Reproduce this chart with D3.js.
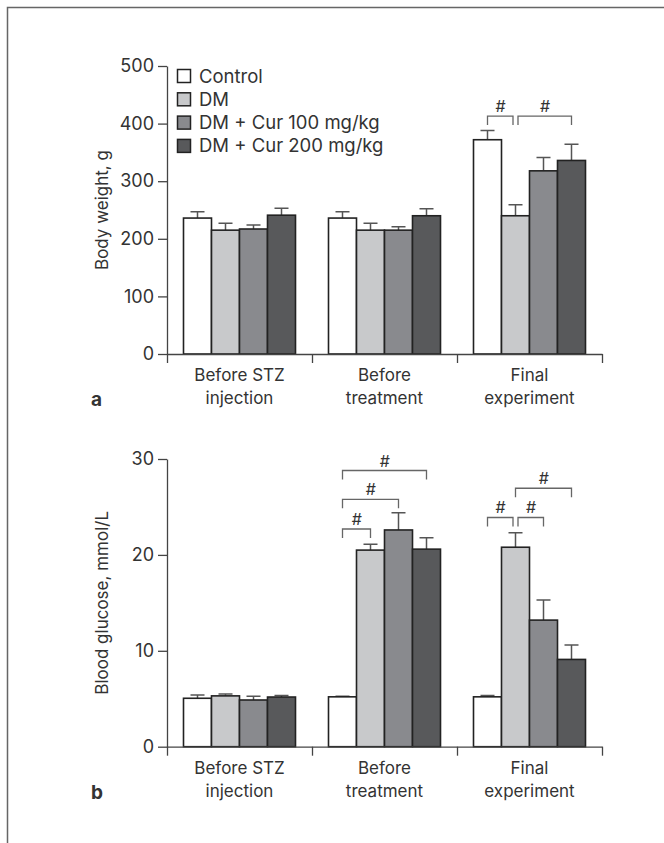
<!DOCTYPE html>
<html>
<head>
<meta charset="utf-8">
<script src="https://cdn.jsdelivr.net/npm/d3@7"></script>
<style>
  body { margin: 0; background: #fff; }
  svg text { font-family: Inter, "Open Sans", sans-serif; fill: #333; }
</style>
</head>
<body>
<div id="chart"></div>
<script>
// groups on the x axis (two lines each)
var categories = [["Before STZ", "injection"], ["Before", "treatment"], ["Final", "experiment"]];
var series = ["Control", "DM", "DM + Cur 100 mg/kg", "DM + Cur 200 mg/kg"];
var colors = ["#ffffff", "#c8c9cb", "#898a8e", "#58595b"];

// panel a: body weight (g), mean and error per group x series
var weightMean = [[236, 215, 217, 241], [236, 215, 215, 240], [372, 240, 318, 336]];
var weightErr  = [[11, 12, 7, 12], [11, 12, 6, 12], [16, 19, 23, 28]];
var weightTicks = [0, 100, 200, 300, 400, 500];
var weightBrackets = [
  {group: 2, from: 0, to: 1, level: 413},
  {group: 2, from: 1, to: 3, level: 413}
];

// panel b: blood glucose (mmol/L)
var glucoseMean = [[5.05, 5.3, 4.87, 5.18], [5.2, 20.5, 22.6, 20.6], [5.2, 20.8, 13.2, 9.1]];
var glucoseErr  = [[0.35, 0.2, 0.38, 0.17], [0.05, 0.6, 1.8, 1.2], [0.15, 1.5, 2.1, 1.5]];
var glucoseTicks = [0, 10, 20, 30];
var glucoseBrackets = [
  {group: 1, from: 0, to: 1, level: 22.7},
  {group: 1, from: 0, to: 2, level: 25.8},
  {group: 1, from: 0, to: 3, level: 28.8},
  {group: 2, from: 0, to: 1, level: 23.9},
  {group: 2, from: 1, to: 2, level: 23.9},
  {group: 2, from: 1, to: 3, level: 26.95}
];

var W = 664, H = 843;
var svg = d3.select("#chart").append("svg")
    .attr("width", W)
    .attr("height", H);

// frame (only top and left edges are inside the page)
svg.append("path")
    .attr("d", "M7.5," + H + "V7.5H" + W)
    .attr("fill", "none")
    .attr("stroke", "#666")
    .attr("stroke-width", 1.5);

var left = 167, right = 602;

function panel(p) {
  var y = d3.scaleLinear().domain(p.domain).range([p.bottom, p.top]);
  var x0 = d3.scaleBand().domain(d3.range(categories.length)).range([left, right]);
  var x1 = d3.scaleBand().domain(d3.range(series.length))
      .range([16.5, x0.bandwidth() - 16.5]);
  var g = svg.append("g");

  // bars
  var groups = g.selectAll(".grp")
    .data(p.mean)
    .enter().append("g")
      .attr("transform", function(d, i) { return "translate(" + x0(i) + ",0)"; });

  groups.each(function(vals, gi) {
    var gg = d3.select(this);
    // error bars first (upper half only)
    gg.selectAll(".err")
      .data(vals)
      .enter().append("path")
        .attr("d", function(d, i) {
          var cx = x1(i) + x1.bandwidth() / 2;
          var top = y(d + p.err[gi][i]);
          return "M" + cx + "," + y(d) + "V" + top + "M" + (cx - 7) + "," + top + "H" + (cx + 7);
        })
        .attr("stroke", "#555")
        .attr("stroke-width", 1.5)
        .attr("fill", "none");
    gg.selectAll("rect")
      .data(vals)
      .enter().append("rect")
        .attr("x", function(d, i) { return x1(i); })
        .attr("width", x1.bandwidth())
        .attr("y", function(d) { return y(d); })
        .attr("height", function(d) { return y(0) - y(d); })
        .attr("fill", function(d, i) { return colors[i]; })
        .attr("stroke", "#222")
        .attr("stroke-width", 1.6);
  });

  // y axis
  var yaxis = g.append("g")
      .attr("transform", "translate(" + left + ",0)")
      .call(d3.axisLeft(y).tickValues(p.ticks).tickSize(9).tickSizeOuter(0).tickPadding(4));
  yaxis.selectAll("path, line").attr("stroke", "#444").attr("stroke-width", 1.3);
  yaxis.selectAll("text").style("font-size", "18px").attr("fill", "#333");

  // x axis with ticks at group boundaries
  var xb = d3.scaleLinear().domain([0, categories.length]).range([left, right]);
  var xaxis = g.append("g")
      .attr("transform", "translate(0," + p.bottom + ")")
      .call(d3.axisBottom(xb).tickValues(d3.range(categories.length + 1))
            .tickSize(9).tickSizeOuter(0).tickFormat(""));
  xaxis.selectAll("path, line").attr("stroke", "#444").attr("stroke-width", 1.3);

  // category labels
  var lab = g.selectAll(".cat")
    .data(categories)
    .enter().append("text")
      .attr("text-anchor", "middle")
      .attr("x", function(d, i) { return x0(i) + x0.bandwidth() / 2; })
      .attr("y", p.bottom + 27)
      .style("font-size", "17px");
  lab.append("tspan").text(function(d) { return d[0]; });
  lab.append("tspan")
      .attr("x", function(d, i) { return x0(i) + x0.bandwidth() / 2; })
      .attr("dy", 23)
      .text(function(d) { return d[1]; });

  // y label
  g.append("text")
      .attr("transform", "translate(108," + (p.top + p.bottom) / 2 + ") rotate(-90)")
      .attr("text-anchor", "middle")
      .style("font-size", "17px")
      .text(p.ylabel);

  // panel letter
  g.append("text")
      .attr("x", 91)
      .attr("y", p.bottom + 52)
      .style("font-size", "19px")
      .style("font-weight", "bold")
      .attr("fill", "#222")
      .text(p.letter);

  // significance brackets
  p.brackets.forEach(function(b) {
    var cx = function(s) { return x0(b.group) + x1(s) + x1.bandwidth() / 2; };
    var shareStart = p.brackets.some(function(o) { return o !== b && o.group === b.group && o.level === b.level && o.to === b.from; });
    var shareEnd = p.brackets.some(function(o) { return o !== b && o.group === b.group && o.level === b.level && o.from === b.to; });
    var xa = cx(b.from) + (shareStart ? 2.5 : 0);
    var xe = cx(b.to) - (shareEnd ? 2.5 : 0);
    var yy = y(b.level);
    g.append("path")
        .attr("d", "M" + xa + "," + (yy + 9) + "V" + yy + "H" + xe + "V" + (yy + 9))
        .attr("fill", "none")
        .attr("stroke", "#666")
        .attr("stroke-width", 1.3);
    g.append("text")
        .attr("x", (xa + xe) / 2)
        .attr("y", yy - 4)
        .attr("text-anchor", "middle")
        .style("font-size", "16px")
        .style("font-style", "italic")
        .attr("fill", "#444")
        .text("#");
  });

  return g;
}

panel({domain: [0, 500], top: 66, bottom: 354, mean: weightMean, err: weightErr,
       ticks: weightTicks, brackets: weightBrackets, ylabel: "Body weight, g", letter: "a"});
panel({domain: [0, 30], top: 459, bottom: 746.7, mean: glucoseMean, err: glucoseErr,
       ticks: glucoseTicks, brackets: glucoseBrackets, ylabel: "Blood glucose, mmol/L", letter: "b"});

// legend in panel a
var leg = svg.append("g").selectAll("g")
  .data(series)
  .enter().append("g")
    .attr("transform", function(d, i) { return "translate(177," + (76 + i * 23.3) + ")"; });
leg.append("rect")
    .attr("x", 0.5)
    .attr("y", -6.5)
    .attr("width", 13)
    .attr("height", 13)
    .attr("fill", function(d, i) { return colors[i]; })
    .attr("stroke", "#222")
    .attr("stroke-width", 1.5);
leg.append("text")
    .attr("x", 22)
    .attr("y", 6.5)
    .style("font-size", "18.5px")
    .text(function(d) { return d; });
</script>
</body>
</html>
